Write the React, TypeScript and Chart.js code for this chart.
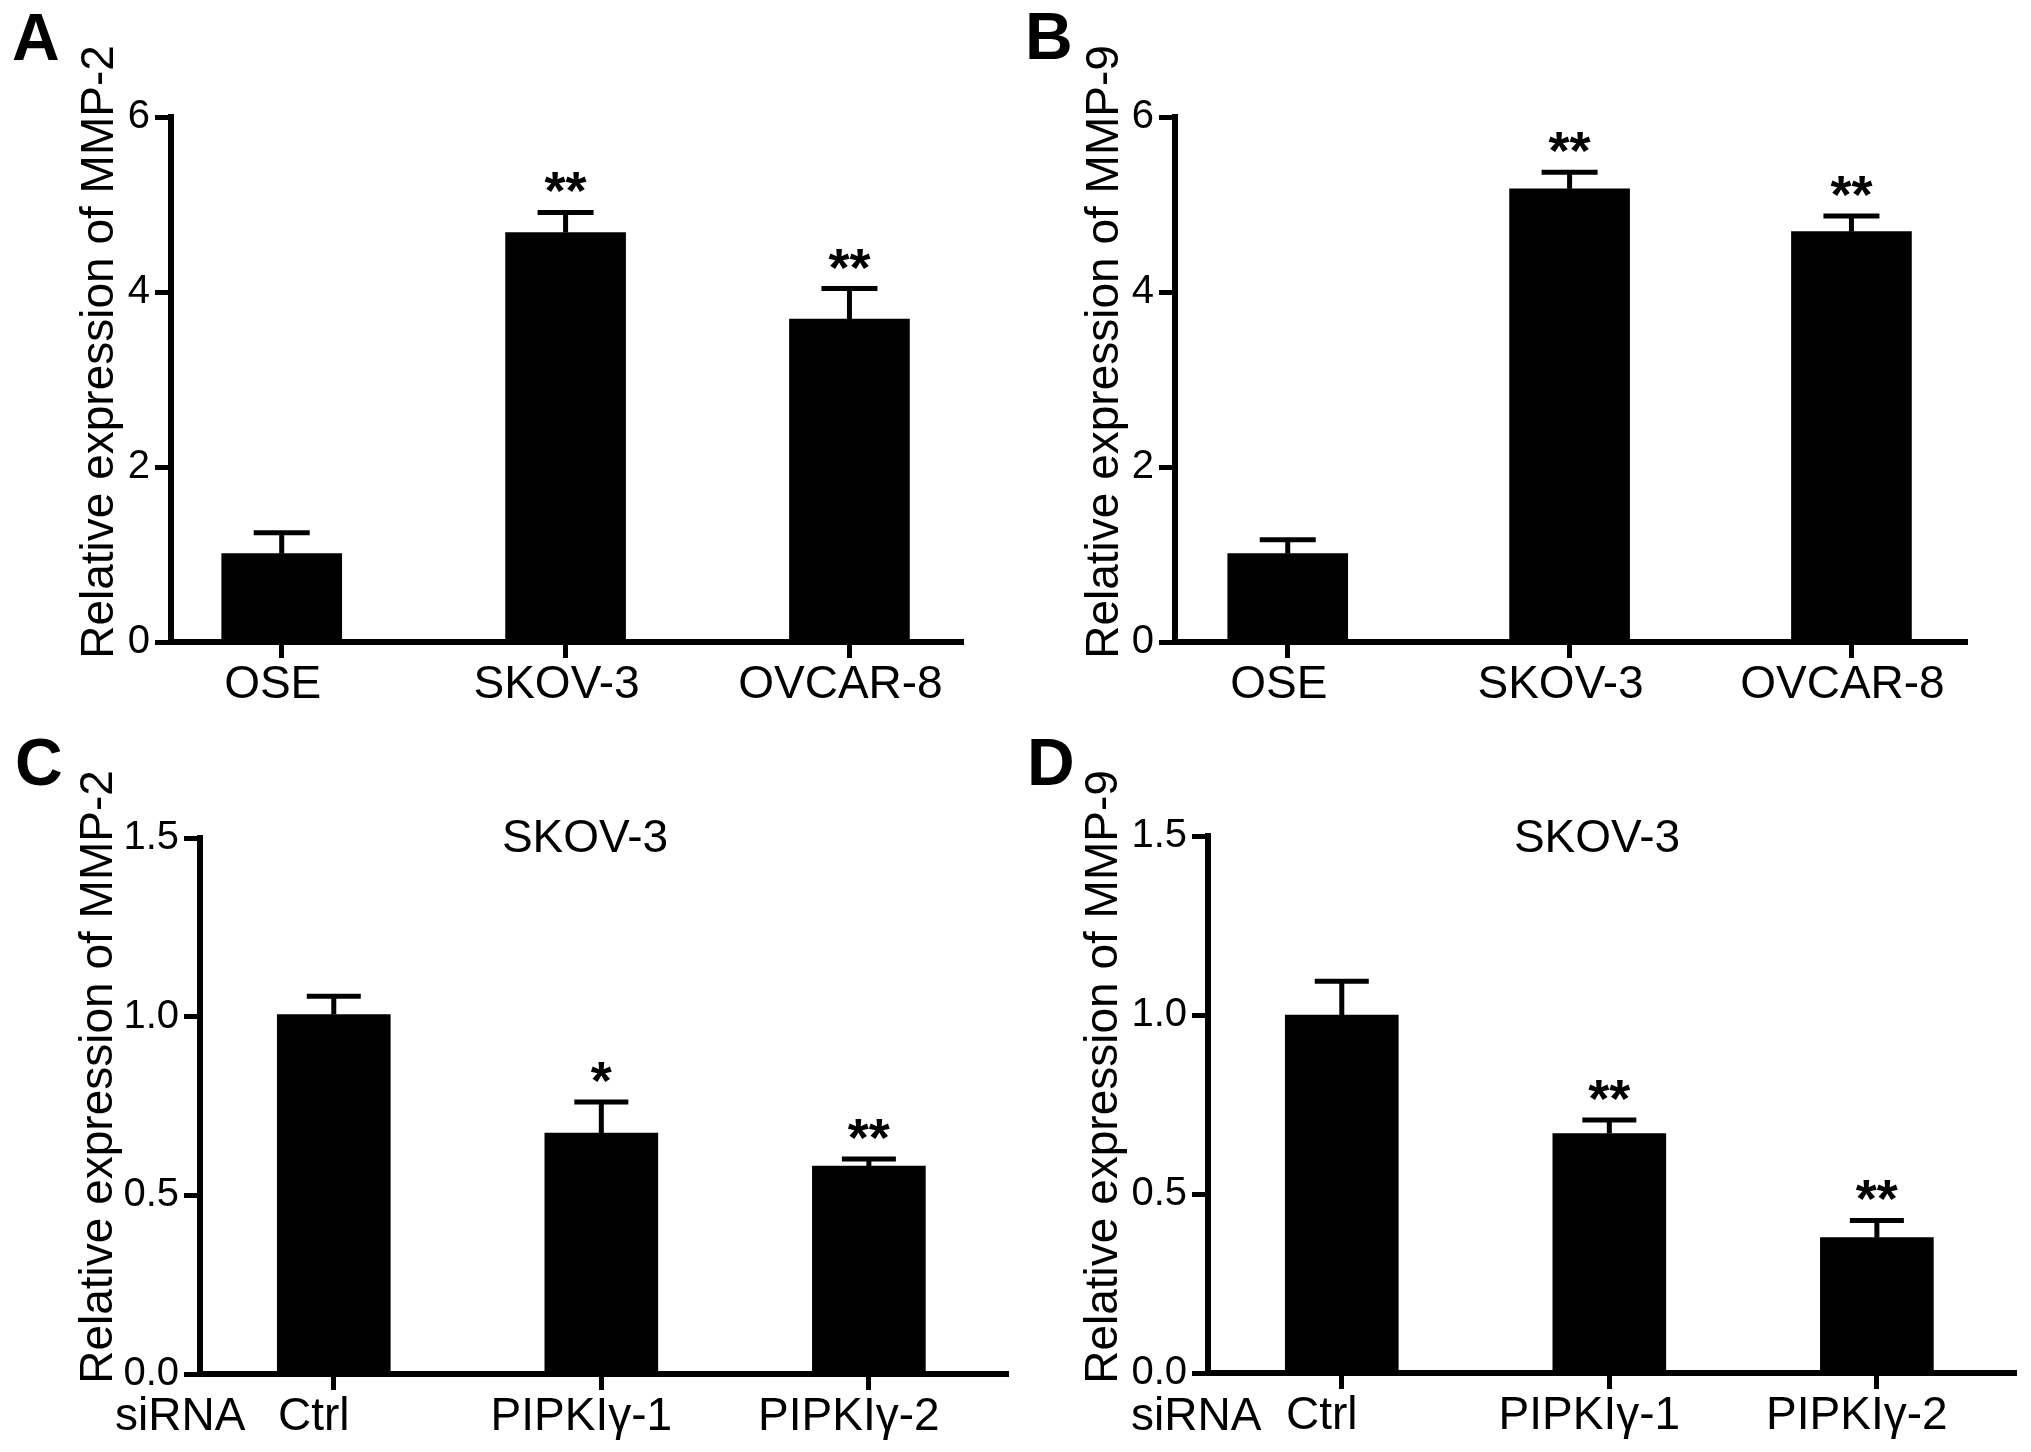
import React, { useEffect, useRef } from 'react';
import { Chart, registerables } from 'chart.js';

Chart.register(...registerables);

const FONT = '"Liberation Sans", Arial, Helvetica, sans-serif';

// ---- data ----
const cellLines = ['OSE', 'SKOV-3', 'OVCAR-8'];
const sirnaGroups = ['Ctrl', 'PIPKIγ-1', 'PIPKIγ-2'];

const mmp2CellMeans = [1.01, 4.68, 3.69];
const mmp2CellSem = [0.24, 0.23, 0.35];
const mmp2CellStars = ['', '**', '**'];

const mmp9CellMeans = [1.01, 5.18, 4.69];
const mmp9CellSem = [0.16, 0.19, 0.18];
const mmp9CellStars = ['', '**', '**'];

const mmp2SiMeans = [1.006, 0.674, 0.582];
const mmp2SiSem = [0.051, 0.087, 0.02];
const mmp2SiStars = ['', '*', '**'];

const mmp9SiMeans = [1.0, 0.669, 0.378];
const mmp9SiSem = [0.094, 0.038, 0.048];
const mmp9SiStars = ['', '**', '**'];

const cellYTicks = [0, 2, 4, 6];
const cellYTickLabels = ['0', '2', '4', '6'];
const siYTicks = [0, 0.5, 1.0, 1.5];
const siYTickLabels = ['0.0', '0.5', '1.0', '1.5'];

// ---- layout per panel ----
type Spec = {
  left: number; top: number; w: number; h: number;
  axisX: number; yTop: number; yBottom: number; xEnd: number;
  xMin: number; xMax: number; barThickness: number; capHalf: number; labelOffset: number;
  letter: string; letterX: number; letterBase: number;
  yTitle: string; yTitleX: number; yTitleY: number;
  title?: string; titleX?: number; titleBase?: number;
  siX?: number; siBase?: number;
  categories: string[]; means: number[]; sem: number[]; stars: string[];
  yTicks: number[]; yTickLabels: string[];
};

const panels: Spec[] = [
  {
    left: 0, top: 0, w: 1015, h: 726,
    axisX: 171, yTop: 117, yBottom: 642, xEnd: 963,
    xMin: -0.39, xMax: 2.40, barThickness: 120, capHalf: 28, labelOffset: -9,
    letter: 'A', letterX: 12, letterBase: 60,
    yTitle: 'Relative expression of MMP-2', yTitleX: 113, yTitleY: 352,
    categories: cellLines, means: mmp2CellMeans, sem: mmp2CellSem, stars: mmp2CellStars,
    yTicks: cellYTicks, yTickLabels: cellYTickLabels,
  },
  {
    left: 1015, top: 0, w: 1016, h: 726,
    axisX: 160, yTop: 117, yBottom: 642, xEnd: 952,
    xMin: -0.40, xMax: 2.41, barThickness: 120, capHalf: 28, labelOffset: -9,
    letter: 'B', letterX: 10, letterBase: 59,
    yTitle: 'Relative expression of MMP-9', yTitleX: 103, yTitleY: 352,
    categories: cellLines, means: mmp9CellMeans, sem: mmp9CellSem, stars: mmp9CellStars,
    yTicks: cellYTicks, yTickLabels: cellYTickLabels,
  },
  {
    left: 0, top: 726, w: 1015, h: 726,
    axisX: 200, yTop: 112, yBottom: 648, xEnd: 1008,
    xMin: -0.50, xMax: 2.52, barThickness: 113, capHalf: 27, labelOffset: -20,
    letter: 'C', letterX: 15, letterBase: 59,
    yTitle: 'Relative expression of MMP-2', yTitleX: 112, yTitleY: 351,
    title: 'SKOV-3', titleX: 585, titleBase: 126,
    siX: 115, siBase: 704,
    categories: sirnaGroups, means: mmp2SiMeans, sem: mmp2SiSem, stars: mmp2SiStars,
    yTicks: siYTicks, yTickLabels: siYTickLabels,
  },
  {
    left: 1015, top: 726, w: 1016, h: 726,
    axisX: 193, yTop: 110, yBottom: 647, xEnd: 1001,
    xMin: -0.50, xMax: 2.52, barThickness: 113, capHalf: 27, labelOffset: -20,
    letter: 'D', letterX: 12, letterBase: 59,
    yTitle: 'Relative expression of MMP-9', yTitleX: 102, yTitleY: 351,
    title: 'SKOV-3', titleX: 582, titleBase: 126,
    siX: 116, siBase: 704,
    categories: sirnaGroups, means: mmp9SiMeans, sem: mmp9SiSem, stars: mmp9SiStars,
    yTicks: siYTicks, yTickLabels: siYTickLabels,
  },
];

function makeAnnotations(spec: Spec) {
  return {
    id: 'annotations',
    afterDatasetsDraw(chart: any) {
      const ctx: CanvasRenderingContext2D = chart.ctx;
      const xs = chart.scales.x;
      const ys = chart.scales.y;
      ctx.save();
      ctx.strokeStyle = '#000';
      ctx.fillStyle = '#000';
      ctx.lineCap = 'butt';
      spec.means.forEach((m, i) => {
        const px = xs.getPixelForValue(i);
        const yTop = ys.getPixelForValue(m);
        const yErr = ys.getPixelForValue(m + spec.sem[i]);
        ctx.lineWidth = 5;
        ctx.beginPath();
        ctx.moveTo(px, yTop);
        ctx.lineTo(px, yErr);
        ctx.stroke();
        ctx.lineWidth = 5;
        ctx.beginPath();
        ctx.moveTo(px - spec.capHalf, yErr);
        ctx.lineTo(px + spec.capHalf, yErr);
        ctx.stroke();
        const s = spec.stars[i];
        if (s) {
          ctx.font = `bold 54px ${FONT}`;
          ctx.textAlign = 'center';
          ctx.textBaseline = 'alphabetic';
          const mt = ctx.measureText(s);
          const inkBottom = yErr - 2 - 17;
          ctx.fillText(s, px, inkBottom - mt.actualBoundingBoxDescent);
        }
      });

      // panel letter
      ctx.font = `bold 66px ${FONT}`;
      ctx.textAlign = 'left';
      ctx.textBaseline = 'alphabetic';
      ctx.fillText(spec.letter, spec.letterX, spec.letterBase);

      // y axis title
      ctx.save();
      ctx.translate(spec.yTitleX, spec.yTitleY);
      ctx.rotate(-Math.PI / 2);
      ctx.font = `46px ${FONT}`;
      ctx.textAlign = 'center';
      ctx.fillText(spec.yTitle, 0, 0);
      ctx.restore();

      if (spec.title) {
        ctx.font = `46px ${FONT}`;
        ctx.textAlign = 'center';
        ctx.fillText(spec.title, spec.titleX as number, spec.titleBase as number);
      }
      if (spec.siX !== undefined) {
        ctx.font = `46px ${FONT}`;
        ctx.textAlign = 'left';
        ctx.fillText('siRNA', spec.siX, spec.siBase as number);
      }
      ctx.restore();
    },
  };
}

function Panel({ spec }: { spec: Spec }) {
  const ref = useRef<HTMLCanvasElement | null>(null);
  useEffect(() => {
    if (!ref.current) return;
    const chart = new Chart(ref.current, {
      type: 'bar',
      data: {
        datasets: [
          {
            data: spec.means.map((v, i) => ({ x: i, y: v })),
            backgroundColor: '#000',
            borderWidth: 0,
            barThickness: spec.barThickness,
          } as any,
        ],
      },
      options: {
        animation: false,
        responsive: false,
        devicePixelRatio: 1,
        events: [],
        layout: { padding: { left: 0, top: spec.yTop, right: spec.w - spec.xEnd, bottom: 0 } },
        plugins: { legend: { display: false }, tooltip: { enabled: false }, title: { display: false } },
        scales: {
          x: {
            type: 'linear',
            min: spec.xMin,
            max: spec.xMax,
            offset: false,
            grid: {
              display: true,
              offset: false,
              drawOnChartArea: false,
              drawTicks: true,
              tickLength: 16,
              tickWidth: 5,
              tickColor: '#000',
            },
            border: { display: true, width: 6, color: '#000' },
            ticks: {
              autoSkip: false,
              maxRotation: 0,
              minRotation: 0,
              padding: 0,
              labelOffset: spec.labelOffset,
              color: '#000',
              font: { family: FONT, size: 46 },
              callback: (v: any) => spec.categories[Math.round(Number(v))] ?? '',
            },
            afterBuildTicks: (scale: any) => {
              scale.ticks = spec.categories.map((_, i) => ({ value: i }));
            },
            afterFit: (scale: any) => {
              scale.height = spec.h - spec.yBottom;
            },
          },
          y: {
            type: 'linear',
            min: spec.yTicks[0],
            max: spec.yTicks[spec.yTicks.length - 1],
            grid: {
              display: true,
              drawOnChartArea: false,
              drawTicks: true,
              tickLength: 16,
              tickWidth: 5,
              tickColor: '#000',
            },
            border: { display: true, width: 6, color: '#000' },
            ticks: {
              padding: 5,
              color: '#000',
              font: { family: FONT, size: 40 },
              callback: (v: any) => {
                const idx = spec.yTicks.findIndex((t) => Math.abs(t - Number(v)) < 1e-9);
                return idx >= 0 ? spec.yTickLabels[idx] : '';
              },
            },
            afterBuildTicks: (scale: any) => {
              scale.ticks = spec.yTicks.map((v) => ({ value: v }));
            },
            afterFit: (scale: any) => {
              scale.width = spec.axisX;
            },
          },
        },
      } as any,
      plugins: [makeAnnotations(spec) as any],
    });
    return () => chart.destroy();
  }, [spec]);
  return (
    <canvas
      ref={ref}
      width={spec.w}
      height={spec.h}
      style={{ position: 'absolute', left: spec.left, top: spec.top, width: spec.w, height: spec.h }}
    />
  );
}

export default function App() {
  return (
    <div style={{ position: 'absolute', left: 0, top: 0, width: 2031, height: 1452, background: '#fff', overflow: 'hidden' }}>
      {panels.map((p, i) => (
        <Panel key={i} spec={p} />
      ))}
    </div>
  );
}
